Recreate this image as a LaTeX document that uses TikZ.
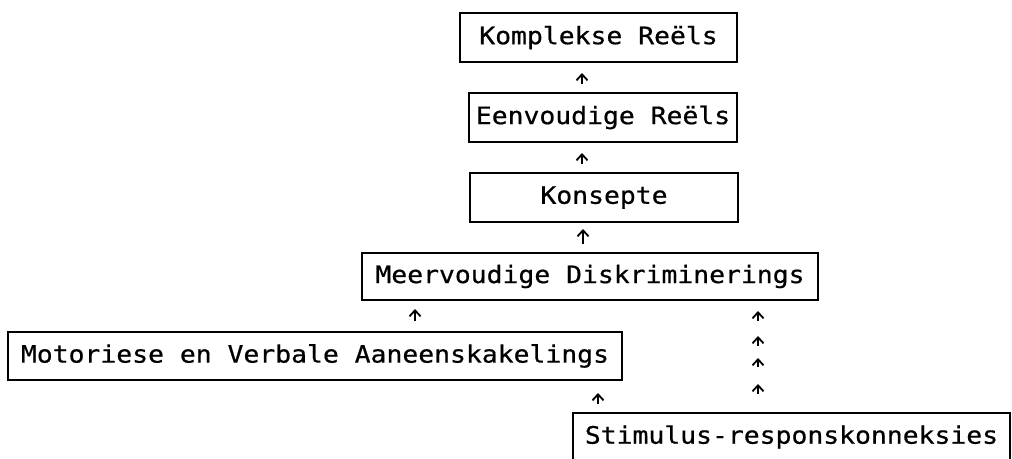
\documentclass[tikz,border=0pt]{standalone}
\usepackage{fontspec}
\newfontfamily\typefont[FakeStretch=1.1,FakeBold=0.6]{DejaVu Sans Mono}
\usetikzlibrary{arrows.meta}

\begin{document}
\begin{tikzpicture}[
    x=1pt, y=-1pt,
    font=\typefont\fontsize{24}{28}\selectfont,
    box/.style={draw, line width=2pt, inner sep=0pt, minimum height=49pt},
    link/.style={-{Straight Barb[length=6pt,width=11pt]}, line width=1.8pt}
]
\clip (0,0) rectangle (1012,458);

\node[box, minimum width=277pt] (kompl) at (598.5,37.5) {Komplekse Reëls};
\node[box, minimum width=268pt] (eenv) at (603,117.5) {Eenvoudige Reëls};
\node[box, minimum width=268pt] (kons) at (604,197.5) {Konsepte};
\node[box, minimum width=456pt, minimum height=47pt] (meerv) at (590,276.5) {Meervoudige Diskriminerings};
\node[box, minimum width=614pt, minimum height=48pt] (motor) at (315,356) {Motoriese en Verbale Aaneenskakelings};
\node[box, minimum width=437pt, minimum height=48pt] (stim) at (791.5,437) {Stimulus-responskonneksies};

\draw[link, shorten <=8pt, shorten >=10pt] ([xshift=-21pt]eenv.north) -- ([xshift=-16.5pt]kompl.south);
\draw[link, shorten <=8pt, shorten >=10pt] ([xshift=-22pt]kons.north) -- ([xshift=-21pt]eenv.south);
\draw[link, shorten <=8pt, shorten >=6pt] ([xshift=-7pt]meerv.north) -- ([xshift=-21pt]kons.south);
\draw[link, shorten <=10pt, shorten >=8pt] ([xshift=100pt]motor.north) -- ([xshift=-175pt]meerv.south);
\draw[link, shorten <=8pt, shorten >=12pt] ([xshift=-193.5pt]stim.north) -- ([xshift=283pt]motor.south);
% broken chain straight from stim to meerv
\foreach \a/\b in {10/91, 35/66, 57/45, 83/18}
  \draw[link, shorten <=\b pt, shorten >=\a pt] ([xshift=-33.5pt]stim.north) -- ([xshift=168pt]meerv.south);
\end{tikzpicture}
\end{document}
